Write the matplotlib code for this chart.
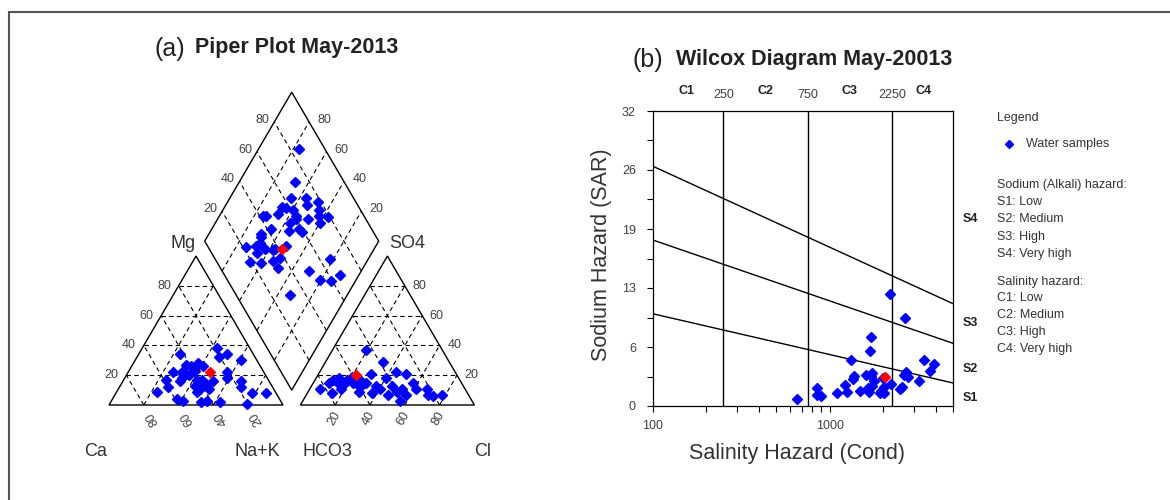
import numpy as np
import matplotlib
matplotlib.use('Agg')
import matplotlib.pyplot as plt
from matplotlib.lines import Line2D
from matplotlib.patches import Rectangle, Polygon
from matplotlib.ticker import FixedLocator, LogLocator, NullFormatter

plt.rcParams['font.family'] = ['Liberation Sans', 'DejaVu Sans']

W, HP = 1170, 500

# ---- Piper data (% meq/l) ----
# cation triangle: Mg and Na+K (Ca is the rest)
cat_mg = [34, 38, 32, 34, 30, 27, 26, 28, 26, 22, 21, 20, 23, 22, 17, 16, 17, 17, 16, 18,
          16, 12, 13, 11, 11, 12, 9, 9, 8, 8, 4, 3, 2, 3, 2, 1, 23, 18, 14]
cat_nak = [24, 43, 47, 51, 61, 31, 34, 37, 41, 26, 32, 36, 38, 57, 24, 33, 42, 45, 52, 59,
           68, 28, 43, 47, 52, 70, 23, 46, 78, 86, 37, 41, 52, 55, 63, 79, 31, 33, 49]
# anion triangle: SO4 and Cl (HCO3 is the rest)
an_so4 = [37, 29, 22, 21, 21, 18, 17, 18, 17, 19, 15, 15, 14, 15, 16, 11, 8, 9, 8, 13,
          11, 7, 13, 9, 11, 15, 11, 7, 3, 11, 7, 6, 7, 12, 15, 11]
an_cl = [19, 33, 44, 50, 30, 40, 10, 13, 18, 20, 9, 14, 18, 23, 27, 6, 14, 29, 37, 37,
         40, 47, 46, 51, 53, 57, 61, 57, 56, 67, 70, 73, 78, 28, 30, 18]
# diamond: Na+K and SO4+Cl
dia_nak = [23, 32, 35, 44, 52, 33, 36, 40, 47, 25, 27, 33, 44, 45, 52, 55, 57, 60, 63, 43,
           34, 30, 31, 45, 50, 53, 32, 26, 31, 34, 37, 42, 43, 48, 33, 40, 46, 49, 51, 78,
           70, 79, 86, 89, 67]
dia_so4cl = [85, 72, 64, 73, 78, 56, 58, 61, 71, 42, 44, 51, 61, 60, 67, 76, 74, 72, 79, 55,
             42, 35, 34, 52, 58, 59, 31, 22, 28, 26, 32, 36, 38, 45, 19, 25, 33, 38, 33, 66,
             50, 53, 59, 66, 31]
mean_mg, mean_nak = 22, 47
mean_so4, mean_cl = 20, 22
mean_dia_nak, mean_dia_so4cl = 47, 42

# ---- Wilcox data ----
ec = [653, 854, 850, 897, 1107, 1230, 1256, 1318, 1355, 1384, 1478, 1612, 1655, 1670,
      1700, 1722, 1722, 1750, 1785, 1923, 2000, 2040, 2213, 2222, 2500, 2585, 2630, 2673,
      2720, 2763, 3214, 3444, 3694, 3890, 1738, 1950, 2030]
sar = [0.73, 1.92, 1.19, 1.05, 1.44, 2.31, 1.55, 4.96, 2.89, 3.29, 1.59, 3.40, 1.95, 1.55,
       5.97, 7.45, 3.25, 2.17, 2.75, 1.37, 3.07, 2.10, 12.2, 2.39, 1.84, 2.06, 3.36, 9.54,
       3.72, 3.11, 2.71, 4.96, 3.83, 4.52, 3.55, 1.60, 1.45]
ec_mean, sar_mean = 2070, 3.18
c_bounds = [250, 750, 2250]
s_left = [10.0, 18.0, 26.0]    # SAR of boundary at EC = 100
s_right = [2.5, 6.8, 11.1]     # SAR of boundary at EC = 5000

G = 0.1
H = np.sqrt(3) / 2


def cat_xy(mg, nak):
    m = np.asarray(mg, float) / 100
    n = np.asarray(nak, float) / 100
    return n + 0.5 * m, H * m


def an_xy(so4, cl):
    s = np.asarray(so4, float) / 100
    c = np.asarray(cl, float) / 100
    return 1 + G + c + 0.5 * s, H * s


def dia_xy(nak, so4cl):
    u = 1 - np.asarray(nak, float) / 100
    a = np.asarray(so4cl, float) / 100
    return 1 + G / 2 + 0.5 * (a - u), H * (G + u + a)


def px(x, y):
    return x / W, 1 - y / HP


fig = plt.figure(figsize=(11.7, 5.0), dpi=100)

# outer frame (cut off at right/bottom like the original)
fig.add_artist(Rectangle((9 / W, -0.1), 1.2, 1 - 12 / HP + 0.1, transform=fig.transFigure,
                         fill=False, ec='#555555', lw=1.5))

# ================= Piper =================
axp = fig.add_axes([60 / W, 30 / HP, 460 / W, 440 / HP])
axp.set_xlim((60 - 109) / 174, (520 - 109) / 174)
axp.set_ylim((405 - 470) / 172, (405 - 30) / 172)
axp.axis('off')

edge = dict(facecolor='none', edgecolor='black', lw=1.0, zorder=3)
gkw = dict(color='black', lw=0.8, ls=(0, (4, 3)), zorder=1)
ticks = [20, 40, 60, 80]

axp.add_patch(Polygon(np.column_stack(cat_xy([0, 0, 100], [0, 100, 0])), closed=True, **edge))
axp.add_patch(Polygon(np.column_stack(an_xy([0, 0, 100], [0, 100, 0])), closed=True, **edge))
axp.add_patch(Polygon(np.column_stack(dia_xy([100, 100, 0, 0], [0, 100, 100, 0])), closed=True, **edge))

for v in ticks:
    axp.plot(*cat_xy([v, v], [0, 100 - v]), **gkw)
    axp.plot(*cat_xy([0, 100 - v], [v, v]), **gkw)
    axp.plot(*cat_xy([0, 100 - v], [100 - v, 0]), **gkw)
    axp.plot(*an_xy([v, v], [0, 100 - v]), **gkw)
    axp.plot(*an_xy([0, 100 - v], [v, v]), **gkw)
    axp.plot(*an_xy([0, 100 - v], [100 - v, 0]), **gkw)
    axp.plot(*dia_xy([100, 0], [v, v]), **gkw)
    axp.plot(*dia_xy([100 - v, 100 - v], [0, 100]), **gkw)

lab = dict(fontsize=9, color='#404040', textcoords='offset points')
for v in ticks:
    # Mg (left side of cation triangle)
    axp.annotate(str(v), cat_xy(v, 0), xytext=(-5.5, 0), ha='right', va='center', **lab)
    # Ca (base of cation triangle)
    axp.annotate(str(v), cat_xy(0, 100 - v), xytext=(6, -10), ha='center', va='center',
                 rotation=120, **lab)
    # Cl (base of anion triangle)
    axp.annotate(str(v), an_xy(0, v), xytext=(-1, -10), ha='center', va='center',
                 rotation=60, **lab)
    # SO4 (right side of anion triangle)
    axp.annotate(str(v), an_xy(v, 100 - v), xytext=(5.5, 0), ha='left', va='center', **lab)
    # diamond upper left (SO4+Cl) and upper right (Ca+Mg)
    axp.annotate(str(v), dia_xy(0, v), xytext=(-3.5, 1.5), ha='right', va='center', **lab)
    axp.annotate(str(v), dia_xy(100 - v, 100), xytext=(6, 1.5), ha='left', va='center', **lab)

mk = dict(ls='none', marker='D', ms=5.0, zorder=4)
axp.plot(*cat_xy(cat_mg, cat_nak), color='blue', **mk)
axp.plot(*an_xy(an_so4, an_cl), color='blue', **mk)
axp.plot(*dia_xy(dia_nak, dia_so4cl), color='blue', **mk)
axp.plot(*cat_xy(mean_mg, mean_nak), color='red', **mk)
axp.plot(*an_xy(mean_so4, mean_cl), color='red', **mk)
axp.plot(*dia_xy(mean_dia_nak, mean_dia_so4cl), color='red', **mk)

big = dict(fontsize=13, color='#333333', ha='center', va='center')
for name, x, y in [('Mg', 183, 244), ('SO4', 407, 244), ('Ca', 96, 451),
                   ('Na+K', 257, 451), ('HCO3', 327, 451), ('Cl', 483, 451)]:
    fig.text(*px(x, y), name, **big)

fig.text(*px(170, 49), '(a)', fontsize=18, ha='center', va='center', color='#222222')
fig.text(*px(195, 47.5), 'Piper Plot May-2013', fontsize=15.5, fontweight='bold',
         ha='left', va='center', color='#222222')

# ================= Wilcox =================
axw = fig.add_axes([653 / W, 1 - 406 / HP, 300 / W, 295 / HP])
axw.set_xscale('log')
axw.set_xlim(100, 5000)
axw.set_ylim(0, 32)

for c in c_bounds:
    axw.axvline(c, color='black', lw=1.0, zorder=1)
for l, r in zip(s_left, s_right):
    axw.plot([100, 5000], [l, r], color='black', lw=1.0, zorder=1)

axw.plot(ec, sar, ls='none', marker='D', ms=5.5, color='blue', zorder=3)
axw.plot([ec_mean], [sar_mean], ls='none', marker='D', ms=5.5, color='red', zorder=4)

axw.xaxis.set_major_locator(FixedLocator([100, 1000]))
axw.set_xticklabels(['100', '1000'])
axw.xaxis.set_minor_locator(LogLocator(subs=np.arange(2, 10)))
axw.xaxis.set_minor_formatter(NullFormatter())
yt = np.arange(0, 32.1, 6.4)
axw.set_yticks(yt)
axw.set_yticklabels([f'{v:.0f}' for v in yt])
axw.set_yticks(np.arange(3.2, 32, 6.4), minor=True)
axw.tick_params(which='both', direction='out', length=4.3, width=0.8, top=False,
                right=False, labelsize=9, labelcolor='#404040')
axw.tick_params(axis='x', which='both', pad=6)
axw.tick_params(axis='y', which='both', pad=8)
for sp in axw.spines.values():
    sp.set_linewidth(0.9)

tx = axw.get_xaxis_transform()
for name, x in [('C1', 155), ('C2', 431), ('C3', 1300), ('C4', 3400)]:
    axw.text(x, 1.068, name, transform=tx, ha='center', va='center', fontsize=9,
             fontweight='bold', color='#222222')
for c in c_bounds:
    axw.text(c, 1.054, str(c), transform=tx, ha='center', va='center', fontsize=9,
             color='#404040')

ty = axw.get_yaxis_transform()
for name, y in [('S4', 20.3), ('S3', 9.0), ('S2', 4.0), ('S1', 0.9)]:
    axw.text(1.057, y, name, transform=ty, ha='center', va='center', fontsize=9,
             fontweight='bold', color='#222222')

fig.text(*px(601, 255), 'Sodium Hazard (SAR)', rotation=90, fontsize=15.5,
         ha='center', va='center', color='#333333')
fig.text(*px(797, 454), 'Salinity Hazard (Cond)', fontsize=15.5,
         ha='center', va='center', color='#333333')

fig.text(*px(648, 59.5), '(b)', fontsize=18, ha='center', va='center', color='#222222')
fig.text(*px(676, 60), 'Wilcox Diagram May-20013', fontsize=15.5, fontweight='bold',
         ha='left', va='center', color='#222222')

# legend block
leg = dict(fontsize=9, ha='left', va='center', color='#333333')
fig.text(*px(997, 118), 'Legend', **leg)
fig.add_artist(Line2D([1009 / W], [1 - 144 / HP], marker='D', ms=4.5, color='blue',
                      ls='none', transform=fig.transFigure))
fig.text(*px(1026, 144), 'Water samples', **leg)
lines = [('Sodium (Alkali) hazard:', 185), ('S1: Low', 202), ('S2: Medium', 219),
         ('S3: High', 237), ('S4: Very high', 254), ('Salinity hazard:', 282),
         ('C1: Low', 298), ('C2: Medium', 315), ('C3: High', 332), ('C4: Very high', 349)]
for t, y in lines:
    fig.text(*px(997, y), t, **leg)

fig.savefig('out.png', dpi=100)
